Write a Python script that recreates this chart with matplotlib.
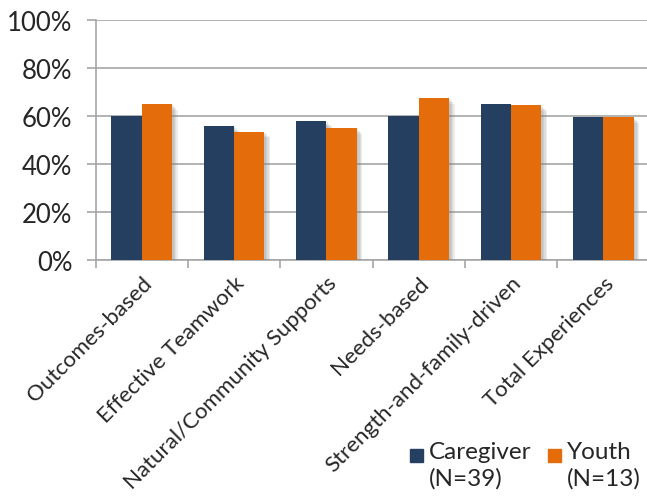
import numpy as np
import matplotlib
matplotlib.use("Agg")
import matplotlib.pyplot as plt
import matplotlib.patheffects as pe
from matplotlib.patches import Rectangle
from matplotlib.ticker import PercentFormatter, FixedLocator

categories = ["Outcomes-based", "Effective Teamwork", "Natural/Community Supports",
              "Needs-based", "Strength-and-family-driven", "Total Experiences"]
caregiver = [0.60, 0.56, 0.58, 0.60, 0.65, 0.595]
youth = [0.65, 0.535, 0.55, 0.675, 0.645, 0.595]
series_labels = ["Caregiver\n(N=39)", "Youth\n(N=13)"]

navy = "#253F60"
orange = "#E46C0A"
grid_grey = "#A6A6A6"

plt.rcParams["font.family"] = ["Lato", "DejaVu Sans"]

W, H = 647, 502
fig = plt.figure(figsize=(W / 100, H / 100), dpi=100)
ax = fig.add_axes([95.5 / W, (H - 261) / H, 554 / W, 240 / H])

x = np.arange(len(categories))
bw = 0.33
# soft drop shadow: a few stacked offsets
shadow = [pe.SimplePatchShadow(offset=(d, -d), shadow_rgbFace="#7F7F7F", alpha=0.14)
          for d in (1, 2, 3, 4)] + [pe.Normal()]
b1 = ax.bar(x - bw / 2, caregiver, bw, color=navy, zorder=3)
b2 = ax.bar(x + bw / 2, youth, bw, color=orange, zorder=3)
for b in list(b1) + list(b2):
    b.set_path_effects(shadow)

ax.set_xlim(-0.5, len(categories) - 0.5)
ax.set_ylim(0, 1)
ax.yaxis.set_major_locator(FixedLocator(np.arange(0, 1.01, 0.2)))
ax.yaxis.set_major_formatter(PercentFormatter(1.0, decimals=0))
ax.grid(axis="y", color=grid_grey, linewidth=1.2, zorder=0)
ax.set_axisbelow(True)

for s in ["top", "right"]:
    ax.spines[s].set_visible(False)
for s in ["left", "bottom"]:
    ax.spines[s].set_color(grid_grey)
    ax.spines[s].set_linewidth(1.2)

ax.tick_params(axis="y", length=6.5, width=1.2, color=grid_grey, labelsize=18.5,
               labelcolor="#262626", pad=10)
# category boundaries get the tick marks, labels sit at the centres
ax.set_xticks(np.arange(-0.5, len(categories), 1.0), minor=True)
ax.tick_params(axis="x", which="minor", length=6, width=1.2, color=grid_grey)
ax.set_xticks(x)
ax.set_xticklabels(categories, rotation=45, ha="right", rotation_mode="anchor",
                   fontsize=16, color="#262626")
ax.tick_params(axis="x", which="major", length=0, pad=9)
for lbl in ax.get_xticklabels():
    lbl.set_x(lbl.get_position()[0] + 0.04)

# legend drawn by hand so the swatch lines up with the first text line
for i, (lab, col) in enumerate(zip(series_labels, [navy, orange])):
    x0 = 410 + i * 138
    fig.patches.append(Rectangle((x0 / W, (H - 463) / H), 13 / W, 13 / H,
                                 transform=fig.transFigure, color=col))
    fig.text((x0 + 19) / W, (H - 442) / H, lab, fontsize=17.5, color="#262626",
             va="top", ha="left", linespacing=1.3)

fig.savefig("out.png", dpi=100)
